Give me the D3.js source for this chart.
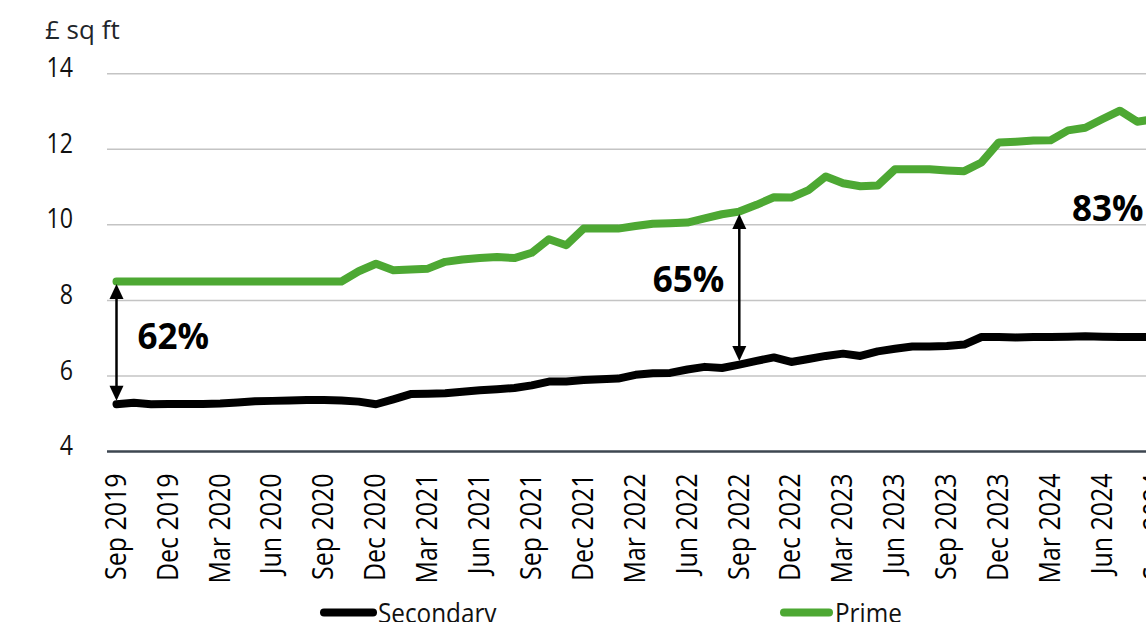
<!DOCTYPE html>
<html>
<head>
<meta charset="utf-8">
<script src="https://cdn.jsdelivr.net/npm/d3@7"></script>
<style>
  html, body { margin: 0; padding: 0; overflow: hidden; background: #fff; }
  svg { display: block; }
  text { font-family: "Open Sans", "Noto Sans", sans-serif; }
</style>
</head>
<body>
<svg id="chart" width="1146" height="622"></svg>
<script>
// Monthly categories, Sep 2019 – Sep 2024
const months = d3.timeMonths(new Date(2019, 8, 1), new Date(2024, 9, 1)).map(d3.timeFormat("%b %Y"));

// Rent, £ per sq ft
const secondary = [
  5.25, 5.29, 5.25, 5.26, 5.26, 5.26, 5.27, 5.30, 5.33, 5.34, 5.35, 5.36, 5.36,
  5.35, 5.32, 5.25, 5.38, 5.52, 5.53, 5.54, 5.58, 5.62, 5.65, 5.68, 5.75, 5.85,
  5.85, 5.89, 5.91, 5.93, 6.03, 6.07, 6.08, 6.17, 6.24, 6.21, 6.30, 6.40, 6.49,
  6.37, 6.45, 6.53, 6.59, 6.53, 6.65, 6.72, 6.78, 6.78, 6.79, 6.83, 7.03, 7.03,
  7.02, 7.03, 7.03, 7.04, 7.05, 7.04, 7.03, 7.03, 7.03
];
const prime = [
  8.50, 8.50, 8.50, 8.50, 8.50, 8.50, 8.50, 8.50, 8.50, 8.50, 8.50, 8.50, 8.50,
  8.50, 8.77, 8.97, 8.80, 8.82, 8.84, 9.02, 9.08, 9.12, 9.15, 9.12, 9.26, 9.62,
  9.46, 9.90, 9.90, 9.90, 9.97, 10.03, 10.04, 10.06, 10.17, 10.28, 10.35, 10.53, 10.73,
  10.72, 10.92, 11.28, 11.10, 11.02, 11.04, 11.47, 11.47, 11.47, 11.44, 11.42, 11.65, 12.18,
  12.20, 12.23, 12.24, 12.50, 12.57, 12.80, 13.02, 12.73, 12.80
];

const tickLabels = [
  "Sep 2019", "Dec 2019", "Mar 2020", "Jun 2020", "Sep 2020", "Dec 2020", "Mar 2021",
  "Jun 2021", "Sep 2021", "Dec 2021", "Mar 2022", "Jun 2022", "Sep 2022", "Dec 2022",
  "Mar 2023", "Jun 2023", "Sep 2023", "Dec 2023", "Mar 2024", "Jun 2024", "Sep 2024"
];
const yTicks = [4, 6, 8, 10, 12, 14];

// Prime premium over secondary at three points in time
const gapMonths = ["Sep 2019", "Sep 2022", "Sep 2024"];
const gapLabels = ["62%", "65%", "83%"];

const seriesNames = ["Secondary", "Prime"];
const seriesColors = ["#000000", "#4da833"];

// ---------------------------------------------------------------
const svg = d3.select("#chart");
const plotLeft = 107;

const x = d3.scalePoint().domain(months).range([116.5, 1154.5]);
const y = d3.scaleLinear().domain([4, 14]).range([451.5, 73.7]);

// Gridlines
svg.append("g")
  .selectAll("line")
  .data(yTicks.filter(v => v > 4))
  .join("line")
  .attr("x1", plotLeft).attr("x2", 1200)
  .attr("y1", d => y(d)).attr("y2", d => y(d))
  .attr("stroke", "#c4c4c4").attr("stroke-width", 1.5);

// Y labels
svg.append("g")
  .selectAll("text")
  .data(yTicks)
  .join("text")
  .attr("transform", d => `translate(73,${y(d) + 3.6}) scale(0.86,1)`)
  .attr("text-anchor", "end")
  .attr("font-size", 27)
  .attr("fill", "#111")
  .text(d => d);

svg.append("text")
  .attr("x", 45).attr("y", 39)
  .attr("font-size", 26)
  .attr("fill", "#1f262b")
  .text("£ sq ft");

// X axis
const xAxis = d3.axisBottom(x).tickValues(tickLabels).tickSize(0).tickPadding(0);
const gx = svg.append("g").attr("transform", `translate(0,${y(4)})`).call(xAxis);
gx.select(".domain").remove();
svg.append("line")
  .attr("x1", plotLeft).attr("x2", 1200)
  .attr("y1", y(4)).attr("y2", y(4))
  .attr("stroke", "#3d4650").attr("stroke-width", 2.5);
gx.selectAll(".tick text")
  .attr("transform", "translate(0,22) rotate(-90) scale(0.86,1)")
  .attr("text-anchor", "end")
  .attr("x", 0)
  .attr("y", 0)
  .attr("dy", "0.3em")
  .attr("font-size", 29)
  .attr("font-family", "\"Open Sans\", sans-serif")
  .attr("fill", "#000");

// Lines
const line = d3.line()
  .x((d, i) => x(months[i]))
  .y(d => y(d));

[secondary, prime].forEach((vals, k) => {
  svg.append("path")
    .datum(vals)
    .attr("d", line)
    .attr("fill", "none")
    .attr("stroke", seriesColors[k])
    .attr("stroke-width", 8)
    .attr("stroke-linejoin", "round")
    .attr("stroke-linecap", "round");
});

// Gap arrows and labels
const labelPlacement = [
  { anchor: "start", dx: 21, dy: 7 },
  { anchor: "end", dx: -15, dy: 4 },
  { anchor: "end", dx: -11, dy: -7 }
];
const headW = 7, headL = 15;
gapMonths.forEach((m, i) => {
  const idx = months.indexOf(m);
  const ax = x(m);
  const yTop = y(prime[idx]) + 2.5;
  const yBot = y(secondary[idx]) - 3.5;
  const g = svg.append("g");
  g.append("line")
    .attr("x1", ax).attr("x2", ax)
    .attr("y1", yTop + headL - 2).attr("y2", yBot - headL + 2)
    .attr("stroke", "#000").attr("stroke-width", 2.5);
  g.append("path")
    .attr("d", `M${ax},${yTop}L${ax - headW},${yTop + headL}L${ax + headW},${yTop + headL}Z`)
    .attr("fill", "#000");
  g.append("path")
    .attr("d", `M${ax},${yBot}L${ax - headW},${yBot - headL}L${ax + headW},${yBot - headL}Z`)
    .attr("fill", "#000");
  const p = labelPlacement[i];
  g.append("text")
    .attr("x", ax + p.dx)
    .attr("y", (yTop + yBot) / 2 + p.dy)
    .attr("text-anchor", p.anchor)
    .attr("font-size", 35)
    .attr("font-weight", 700)
    .attr("fill", "#000")
    .text(gapLabels[i]);
});

// Legend
const legendItems = [
  { x1: 324, x2: 373, tx: 378 },
  { x1: 784, x2: 829, tx: 835 }
];
seriesNames.forEach((name, k) => {
  const li = legendItems[k];
  svg.append("line")
    .attr("x1", li.x1).attr("x2", li.x2)
    .attr("y1", 612.5).attr("y2", 612.5)
    .attr("stroke", seriesColors[k]).attr("stroke-width", 8)
    .attr("stroke-linecap", "round");
  svg.append("text")
    .attr("transform", `translate(${li.tx},622.5) scale(0.9,1)`)
    .attr("font-size", 27)
    .attr("fill", "#111")
    .text(name);
});
</script>
</body>
</html>
